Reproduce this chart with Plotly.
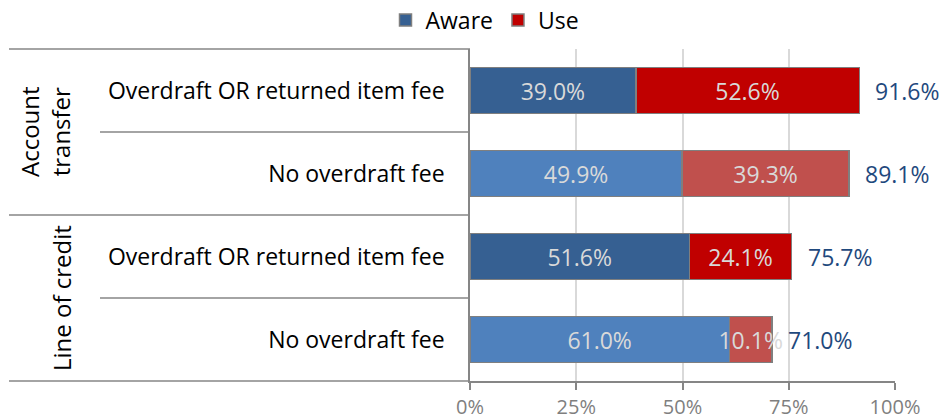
import plotly.graph_objects as go

# ---- data ----
row_ids = ["AT-OD", "AT-NO", "LC-OD", "LC-NO"]
row_labels = ["Overdraft OR returned item fee", "No overdraft fee",
              "Overdraft OR returned item fee", "No overdraft fee"]
groups = ["Account<br>transfer", "Line of credit"]
aware = [39.0, 49.9, 51.6, 61.0]
use = [52.6, 39.3, 24.1, 10.1]
totals = [91.6, 89.1, 75.7, 71.0]
x_ticks = [0, 25, 50, 75, 100]
x_tick_labels = ["0%", "25%", "50%", "75%", "100%"]

aware_colors = ["#366092", "#4F81BD", "#366092", "#4F81BD"]
use_colors = ["#C00000", "#C0504D", "#C00000", "#C0504D"]

FONT = "Open Sans"
W, H = 943, 420
L, R, T, B = 470, 48, 49, 39
PW = W - L - R
PH = H - T - B


def px_x(p):
    return (p - L) / PW


def px_y(p):
    return (H - B - p) / PH


fig = go.Figure()
fig.add_trace(go.Bar(
    y=row_ids, x=aware, orientation="h", name="Aware",
    marker=dict(color=aware_colors, line=dict(color="#7F7F7F", width=1.5)),
    texttemplate="%{x:.1f}%", textposition="inside", insidetextanchor="middle",
    constraintext="none", textangle=0,
    textfont=dict(family=FONT, size=23, color="#D9D9D9"),
))
fig.add_trace(go.Bar(
    y=row_ids, x=use, orientation="h", name="Use",
    marker=dict(color=use_colors, line=dict(color="#7F7F7F", width=1.5)),
    texttemplate="%{x:.1f}%", textposition="inside", insidetextanchor="middle",
    constraintext="none", textangle=0,
    textfont=dict(family=FONT, size=23, color="#D9D9D9"),
))

annotations = []
for rid, tot in zip(row_ids, totals):
    annotations.append(dict(
        x=tot, y=rid, xref="x", yref="y", text=f"{tot:.1f}%",
        showarrow=False, xanchor="left", xshift=14,
        font=dict(family=FONT, size=23, color="#1F497D"),
    ))

# group labels
annotations.append(dict(
    x=px_x(45), y=0.75, xref="paper", yref="paper", text=groups[0],
    showarrow=False, textangle=-90, xanchor="center", yanchor="middle",
    font=dict(family=FONT, size=24, color="#000000"),
))
annotations.append(dict(
    x=px_x(61), y=0.25, xref="paper", yref="paper", text=groups[1],
    showarrow=False, textangle=-90, xanchor="center", yanchor="middle",
    font=dict(family=FONT, size=24, color="#000000"),
))

line_style = dict(color="#868686", width=1.5)
shapes = []
for yy, x0 in [(1.0, 9), (0.75, 100), (0.5, 9), (0.25, 100), (0.0, 9)]:
    shapes.append(dict(type="line", xref="paper", yref="paper",
                       x0=px_x(x0), x1=0, y0=yy, y1=yy, line=line_style))

fig.update_layout(
    width=W, height=H, autosize=False,
    margin=dict(l=L, r=R, t=T, b=B, autoexpand=False),
    paper_bgcolor="white", plot_bgcolor="white",
    barmode="stack", bargap=0.446,
    font=dict(family=FONT, size=20, color="#000000"),
    showlegend=True,
    legend=dict(orientation="h", x=px_x(485), xanchor="center",
                y=px_y(20), yanchor="middle",
                font=dict(family=FONT, size=23, color="#000000"),
                traceorder="normal", itemclick=False),
    annotations=annotations,
    shapes=shapes,
    xaxis=dict(
        range=[0, 100], tickvals=x_ticks, ticktext=x_tick_labels,
        showgrid=True, gridcolor="#D9D9D9", gridwidth=1.5,
        zeroline=False, showline=True, linecolor="#868686", linewidth=1.5,
        ticks="outside", ticklen=7, tickcolor="#868686", tickwidth=1.5,
        tickfont=dict(family=FONT, size=20, color="#7F7F7F"),
        ticklabelstandoff=0, automargin=False,
        fixedrange=True,
    ),
    yaxis=dict(
        categoryorder="array", categoryarray=row_ids, autorange="reversed",
        tickvals=row_ids, ticktext=row_labels,
        showgrid=False, zeroline=False, showline=True,
        linecolor="#868686", linewidth=1.5, ticks="",
        tickfont=dict(family=FONT, size=23, color="#000000"),
        ticklabelstandoff=19, automargin=False,
        fixedrange=True,
    ),
)

fig.write_html(
    "out.html",
    config={"displayModeBar": False},
    post_script="document.body.style.margin='0';document.body.style.padding='0';",
)
